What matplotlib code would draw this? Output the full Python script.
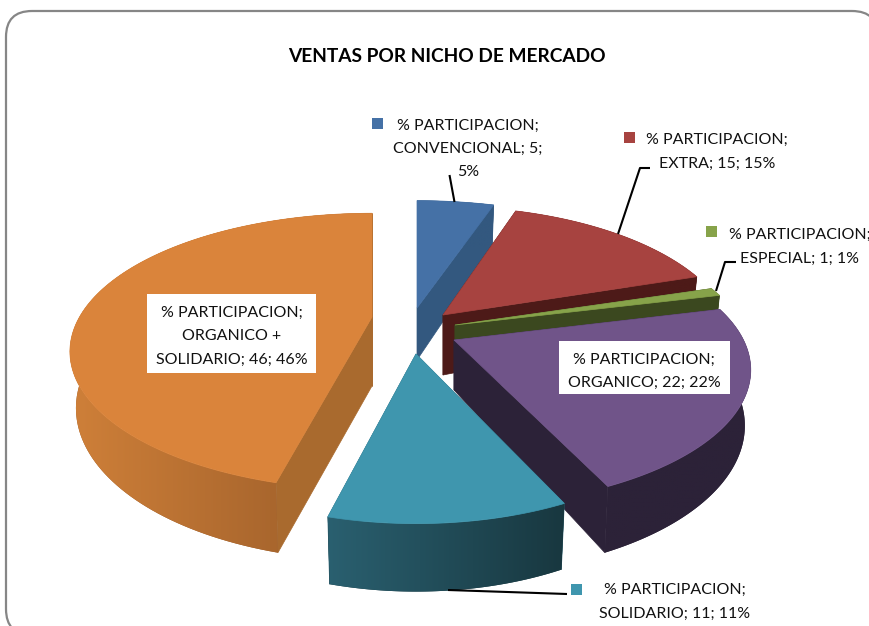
import numpy as np
import matplotlib
matplotlib.use("Agg")
import matplotlib.pyplot as plt
from matplotlib.patches import FancyBboxPatch, Polygon
from matplotlib.colors import to_rgb

series_name = "% PARTICIPACION"
categories = ["CONVENCIONAL", "EXTRA", "ESPECIAL", "ORGANICO", "SOLIDARIO", "ORGANICO + SOLIDARIO"]
values = [5, 15, 1, 22, 11, 46]
title = "VENTAS POR NICHO DE MERCADO"

# styling per slice
top_colors = ["#4571a6", "#a74340", "#87a34a", "#705489", "#3f96ae", "#da843b"]
wall_from = ["#33587f", "#4d1a18", "#3b481f", "#2c2238", "#2a6070", "#cf8039"]
wall_to = ["#33587f", "#4d1a18", "#3b481f", "#2c2238", "#18373f", "#975a28"]
face_colors = ["#33587f", "#4d1a18", "#3b481f", "#2c2238", "#2a6070", "#a96a2e"]
explode_px = [(5, -15), (31, -8), (43, 2), (42, 17), (4, 31), (-40, -6)]
scale_x = [1.0, 0.95, 0.96, 0.965, 0.93, 0.975]
scale_y = [1.0, 1.01, 0.96, 0.99, 1.01, 0.99]
persp = [0.22, 0.22, 0.22, 0.22, 0.22, 0.25]
apex_drop = [52, 60, 55, 50, 50, 69]
draw_order = [0, 5, 1, 2, 3, 4]

cx, cy = 412, 323
rx, ry, depth = 300, 131, 53
shrink = 0.98  # lower rim is a bit narrower than the top one


def project(theta, i, drop=0.0, narrow=1.0):
    x = np.sin(theta)
    y = np.cos(theta)
    w = 1 + persp[i] * y
    return (cx + explode_px[i][0] + narrow * rx * scale_x[i] * x / w,
            cy + explode_px[i][1] - ry * scale_y[i] * y / w + drop / w)


def draw_slice(ax, a0, a1, i):
    th = np.linspace(a0, a1, 120)
    top_x, top_y = project(th, i)
    low_x, low_y = project(th, i, depth, shrink)
    ax0, ay0 = cx + explode_px[i][0], cy + explode_px[i][1]
    ax1, ay1 = ax0, ay0 + apex_drop[i]
    # flat cut faces
    for k in (0, -1):
        ax.add_patch(Polygon([(ax0, ay0), (top_x[k], top_y[k]), (low_x[k], low_y[k]), (ax1, ay1)],
                             fc=face_colors[i], ec=face_colors[i], lw=0.5))
    # curved wall, horizontal gradient clipped to the wall outline
    outline = list(zip(top_x, top_y)) + list(zip(low_x[::-1], low_y[::-1]))
    patch = Polygon(outline, fc=wall_to[i], ec="none")
    ax.add_patch(patch)
    c0 = np.array(to_rgb(wall_from[i]))
    c1 = np.array(to_rgb(wall_to[i]))
    grad = np.linspace(0, 1, 64)[None, :, None]
    img = c0 + (c1 - c0) * grad
    lo, hi = top_x.min() - 3, top_x.max() + 3
    im = ax.imshow(img, extent=(lo, hi, low_y.max() + 3, min(top_y.min(), low_y.min()) - 3),
                   aspect="auto", interpolation="bilinear", zorder=1)
    im.set_clip_path(patch)
    pts = [(ax0, ay0)] + list(zip(top_x, top_y))
    ax.add_patch(Polygon(pts, fc=top_colors[i], ec=top_colors[i], lw=0.5))


plt.rcParams["font.family"] = ["Lato", "DejaVu Sans"]
fig = plt.figure(figsize=(8.7, 6.26), dpi=100)
ax = fig.add_axes([0, 0, 1, 1])

ax.add_patch(FancyBboxPatch((6, 11), 872, 624, boxstyle="round,pad=0,rounding_size=26", fc="white",
                            ec="#868686", lw=1.6))

ax.text(446.5, 56.5, title, ha="center", va="center", fontsize=13.8, fontweight="bold", color="black")

edges = np.cumsum([0] + values) / sum(values) * 2 * np.pi
for i in draw_order:
    draw_slice(ax, edges[i], edges[i + 1], i)

ax.set_xlim(0, 870)
ax.set_ylim(626, 0)
ax.axis("off")

# leader lines
leaders = [
    [(449.5, 175), (454.5, 202)],
    [(618, 234), (640, 168), (650, 168)],
    [(716, 291), (725, 262), (736, 262)],
    [(448, 590), (567, 594)],
]
for pts in leaders:
    ax.plot(*zip(*pts), color="black", lw=1.5, solid_capstyle="butt")

text_kw = dict(ha="center", va="center", fontsize=11.5, color="#111111")


def label_lines(lines, x, ys):
    for s, y in zip(lines, ys):
        ax.text(x, y, s, **text_kw)


def key(i, x, y):
    ax.add_patch(plt.Rectangle((x - 5.5, y - 5.5), 11, 11, fc=top_colors[i], ec="none"))


def tail(i):
    return "%s; %d; %d%%" % (categories[i], values[i], values[i])


s0 = series_name + ";"
key(0, 378, 123)
label_lines([s0, "%s; %d;" % (categories[0], values[0]), "%d%%" % values[0]], 468, [125.5, 149, 172.5])
key(1, 630, 137)
label_lines([s0, tail(1)], 717, [139.5, 163.5])
key(2, 712, 231)
label_lines([s0, tail(2)], 800, [234.5, 258.5])
key(4, 577, 589)
label_lines([s0, tail(4)], 675, [589.5, 613.5])

# boxed labels over the big slices
for box, lines, tx, ys in [
    ((559, 341, 171, 53), [s0, tail(3)], 644, [359.5, 382.5]),
    ((147, 294, 169, 79), [s0, "ORGANICO +", "SOLIDARIO; %d; %d%%" % (values[5], values[5])], 232, [312.5, 335.5, 359.5]),
]:
    ax.add_patch(plt.Rectangle(box[:2], box[2], box[3], fc="white", ec="none", zorder=3))
    for s, y in zip(lines, ys):
        ax.text(tx, y, s, zorder=4, **text_kw)

fig.savefig("out.png", dpi=100)
